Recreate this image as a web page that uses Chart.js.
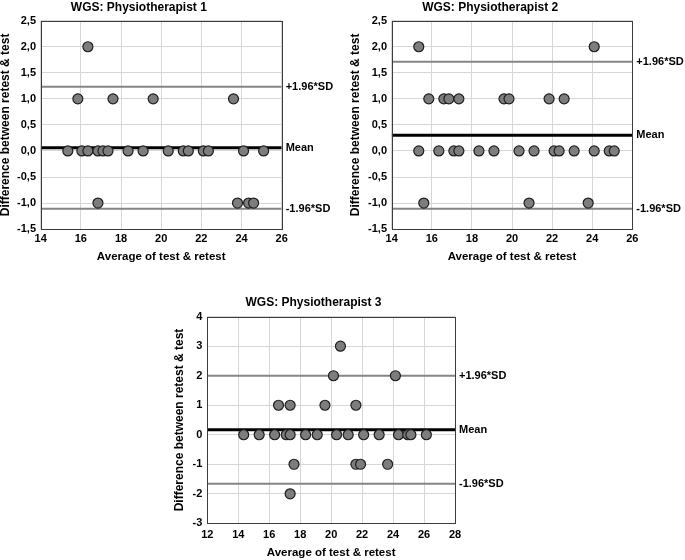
<!DOCTYPE html>
<html>
<head>
<meta charset="utf-8">
<script src="https://cdn.jsdelivr.net/npm/chart.js@4.4.1/dist/chart.umd.min.js"></script>
<style>
  html, body { margin: 0; padding: 0; background: #fff; overflow: hidden; width: 685px; height: 560px; }
  .panel { position: absolute; }
</style>
</head>
<body>
<div class="panel" id="w1" style="left:-4px;top:0px;"><canvas id="c1" width="340" height="268"></canvas></div>
<div class="panel" id="w2" style="left:348px;top:0px;"><canvas id="c2" width="337" height="268"></canvas></div>
<div class="panel" id="w3" style="left:172px;top:295px;"><canvas id="c3" width="340" height="265"></canvas></div>
<script>
// ---------- DATA ----------
const titles = ['WGS: Physiotherapist 1', 'WGS: Physiotherapist 2', 'WGS: Physiotherapist 3'];
const xAxisTitle = 'Average of test & retest';
const yAxisTitle = 'Difference between retest & test';
const limitLabels = ['+1.96*SD', 'Mean', '-1.96*SD'];

// Panel 1
const avg1  = [16.35, 15.85, 17.6, 19.6, 23.6,
               15.35, 16.05, 16.35, 16.85, 17.1, 17.35, 18.35, 19.1, 20.35, 21.1, 21.35, 22.1, 22.35, 24.1, 25.1,
               16.85, 23.8, 24.35, 24.6];
const diff1 = [2, 1, 1, 1, 1,
               0, 0, 0, 0, 0, 0, 0, 0, 0, 0, 0, 0, 0, 0, 0,
               -1, -1, -1, -1];
const limits1 = [1.23, 0.06, -1.11];   // +1.96SD, mean, -1.96SD
const xTicks1 = [14, 16, 18, 20, 22, 24, 26];
const yTicks1 = [-1.5, -1.0, -0.5, 0.0, 0.5, 1.0, 1.5, 2.0, 2.5];

// Panel 2
const avg2  = [15.35, 24.1,
               15.85, 16.6, 16.85, 17.35, 19.6, 19.85, 21.85, 22.6,
               15.35, 16.35, 17.1, 17.35, 18.35, 19.1, 20.35, 21.1, 22.1, 22.35, 23.1, 24.1, 24.85, 25.1,
               15.6, 20.85, 23.8];
const diff2 = [2, 2,
               1, 1, 1, 1, 1, 1, 1, 1,
               0, 0, 0, 0, 0, 0, 0, 0, 0, 0, 0, 0, 0, 0,
               -1, -1, -1];
const limits2 = [1.71, 0.30, -1.11];
const xTicks2 = [14, 16, 18, 20, 22, 24, 26];
const yTicks2 = [-1.5, -1.0, -0.5, 0.0, 0.5, 1.0, 1.5, 2.0, 2.5];

// Panel 3
const avg3  = [20.6,
               20.15, 24.15,
               16.6, 17.35, 19.6, 21.6,
               14.35, 15.35, 16.35, 17.1, 17.35, 18.35, 19.1, 20.35, 21.1, 22.1, 23.1, 24.35, 24.95, 25.15, 26.15,
               17.6, 21.6, 21.9, 23.65,
               17.35];
const diff3 = [3,
               2, 2,
               1, 1, 1, 1,
               0, 0, 0, 0, 0, 0, 0, 0, 0, 0, 0, 0, 0, 0, 0,
               -1, -1, -1, -1,
               -2];
const limits3 = [2.0, 0.17, -1.66];
const xTicks3 = [12, 14, 16, 18, 20, 22, 24, 26, 28];
const yTicks3 = [-3, -2, -1, 0, 1, 2, 3, 4];

// ---------- STYLE / LAYOUT ----------
const FONT = "'Liberation Sans', Arial, Helvetica, sans-serif";
Chart.defaults.font.family = FONT;
Chart.defaults.color = '#000';

const limitPlugin = {
  id: 'limitLabels',
  afterDatasetsDraw(chart, args, opts) {
    const ctx = chart.ctx, a = chart.chartArea, ys = chart.scales.y;
    ctx.save();
    // plot frame
    ctx.strokeStyle = '#3c3c3c';
    ctx.lineWidth = 1;
    ctx.strokeRect(Math.round(a.left) + 0.5, Math.round(a.top) + 0.5,
                   Math.round(a.right) - Math.round(a.left), Math.round(a.bottom) - Math.round(a.top));
    ctx.fillStyle = '#000';
    ctx.font = 'bold 11px ' + FONT;
    ctx.textBaseline = 'middle';
    ctx.textAlign = 'left';
    opts.values.forEach((v, i) => {
      ctx.fillText(limitLabels[i], a.right + 4, ys.getPixelForValue(v));
    });
    ctx.restore();
  }
};

function makeChart(id, cfg) {
  const {avg, diff, limits, xTicks, yTicks, title, yWidth, xHeight, yTitlePad, titlePadBottom,
         xTitlePadBottom, padRight, xTickPad, yTickPad, fmt} = cfg;
  const xMin = xTicks[0], xMax = xTicks[xTicks.length - 1];
  const pts = avg.map((x, i) => ({x: x, y: diff[i]}));
  const hline = v => [{x: xMin, y: v}, {x: xMax, y: v}];
  return new Chart(document.getElementById(id), {
    type: 'scatter',
    data: {
      datasets: [
        {data: pts, pointRadius: 5, pointHoverRadius: 5, backgroundColor: '#7d7d7d',
         borderColor: '#1e1e1e', borderWidth: 1.2, order: 0},
        {data: hline(limits[1]), showLine: true, pointRadius: 0, borderColor: '#000', borderWidth: 3, order: 1},
        {data: hline(limits[0]), showLine: true, pointRadius: 0, borderColor: '#858585', borderWidth: 2, order: 2},
        {data: hline(limits[2]), showLine: true, pointRadius: 0, borderColor: '#858585', borderWidth: 2, order: 2}
      ]
    },
    options: {
      responsive: false,
      animation: false,
      devicePixelRatio: 1,
      layout: {padding: {left: 0, top: 0, bottom: 0, right: padRight}},
      plugins: {
        legend: {display: false},
        tooltip: {enabled: false},
        title: {display: true, text: title, color: '#000',
                font: {size: 12, weight: 'bold', family: FONT, lineHeight: 1.2},
                padding: {top: 0, bottom: titlePadBottom}},
        limitLabels: {values: limits}
      },
      scales: {
        x: {
          type: 'linear', min: xMin, max: xMax,
          afterBuildTicks: s => { s.ticks = xTicks.map(v => ({value: v})); },
          afterFit: s => { s.height = xHeight; },
          grid: {color: '#d6d6d6', lineWidth: 1, drawTicks: false},
          border: {display: false},
          ticks: {padding: xTickPad, color: '#000', font: {size: 11, weight: 'bold', family: FONT},
                  maxRotation: 0, autoSkip: false, callback: v => String(v)},
          title: {display: true, text: xAxisTitle, color: '#000',
                  font: {size: 11.5, weight: 'bold', family: FONT, lineHeight: 1.2},
                  padding: {top: 0, bottom: xTitlePadBottom}}
        },
        y: {
          type: 'linear', min: yTicks[0], max: yTicks[yTicks.length - 1],
          afterBuildTicks: s => { s.ticks = yTicks.map(v => ({value: v})); },
          afterFit: s => { s.width = yWidth; },
          grid: {color: '#d6d6d6', lineWidth: 1, drawTicks: false},
          border: {display: false},
          ticks: {padding: yTickPad, color: '#000', font: {size: 11, weight: 'bold', family: FONT},
                  autoSkip: false, callback: fmt},
          title: {display: true, text: yAxisTitle, color: '#000',
                  font: {size: 12, weight: 'bold', family: FONT, lineHeight: 1.2},
                  padding: {top: yTitlePad, bottom: 0}}
        }
      }
    },
    plugins: [limitPlugin]
  });
}

const commaFmt = v => Number(v).toFixed(1).replace('.', ',');
const intFmt = v => String(Math.round(v));

makeChart('c1', {avg: avg1, diff: diff1, limits: limits1, xTicks: xTicks1, yTicks: yTicks1, title: titles[0],
  yWidth: 44.7, xHeight: 38.9, yTitlePad: 2.6, titlePadBottom: 6.3, xTitlePadBottom: 4, padRight: 54.3,
  xTickPad: 3.3, yTickPad: 4.7, fmt: commaFmt});
makeChart('c2', {avg: avg2, diff: diff2, limits: limits2, xTicks: xTicks2, yTicks: yTicks2, title: titles[1],
  yWidth: 43.7, xHeight: 38.9, yTitlePad: 0.3, titlePadBottom: 6.3, xTitlePadBottom: 4, padRight: 52.7,
  xTickPad: 3.3, yTickPad: 4.7, fmt: commaFmt});
makeChart('c3', {avg: avg3, diff: diff3, limits: limits3, xTicks: xTicks3, yTicks: yTicks3, title: titles[2],
  yWidth: 35.3, xHeight: 36.7, yTitlePad: 0.6, titlePadBottom: 7.3, xTitlePadBottom: 0, padRight: 57,
  xTickPad: 5.1, yTickPad: 5, fmt: intFmt});
</script>
</body>
</html>
